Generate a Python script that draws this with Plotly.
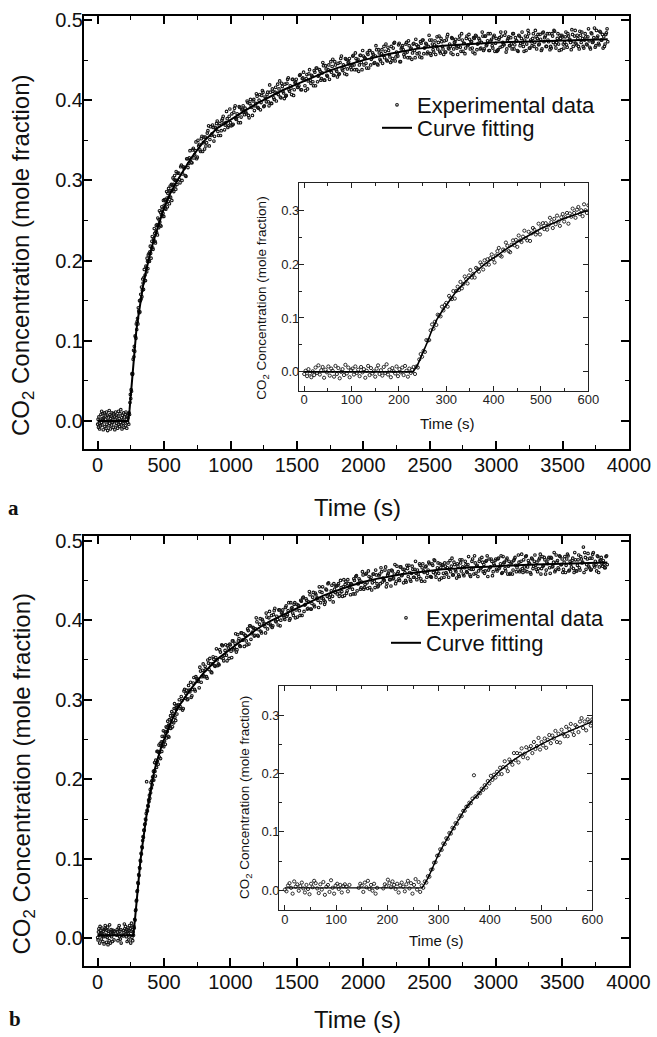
import plotly.graph_objects as go

# ---------------- DATA ----------------
# sampling grid of the recorded signal
t_early = list(range(0, 601, 3))      # 0 ... 600 s, every 3 s
t_late = list(range(610, 3841, 10))   # 610 ... 3840 s
t_mid = list(range(615, 3836, 10))    # 615 ... 3835 s (interleaved samples)

# Panel a: experimental CO2 concentration (mole fraction)
a_early = [
    -0.004, 0.002, -0.008, 0.005, -0.003, -0.010, 0.001, -0.006, 0.008, -0.002,
    0.012, -0.005, 0.003, 0.009, -0.011, 0.004, -0.001, 0.010, -0.007, 0.006,
    0.002, -0.009, 0.011, -0.004, 0.007, -0.012, 0.000, 0.005, -0.006, 0.013,
    -0.003, 0.008, -0.010, 0.003, 0.006, -0.005, 0.010, -0.002, 0.004, -0.008,
    0.009, -0.001, 0.005, -0.011, 0.002, 0.011, -0.006, 0.007, -0.003, 0.001,
    -0.009, 0.006, 0.012, -0.004, 0.003, -0.007, 0.009, -0.002, 0.014, -0.005,
    0.004, -0.010, 0.007, 0.001, -0.003, 0.010, -0.008, 0.005, -0.001, 0.008,
    -0.006, 0.011, 0.002, -0.009, 0.006, -0.002, 0.004, 0.009, -0.004, 0.010,
    0.008, 0.023, 0.033, 0.028, 0.039, 0.037, 0.059, 0.058, 0.059, 0.077,
    0.088, 0.080, 0.093, 0.087, 0.106, 0.105, 0.103, 0.121, 0.114, 0.124,
    0.128, 0.121, 0.141, 0.137, 0.135, 0.150, 0.136, 0.150, 0.158, 0.152,
    0.167, 0.155, 0.163, 0.177, 0.172, 0.164, 0.179, 0.189, 0.175, 0.182,
    0.175, 0.193, 0.191, 0.186, 0.203, 0.199, 0.190, 0.207, 0.199, 0.209,
    0.199, 0.211, 0.218, 0.209, 0.203, 0.216, 0.224, 0.230, 0.216, 0.214,
    0.227, 0.225, 0.240, 0.234, 0.224, 0.222, 0.236, 0.244, 0.235, 0.245,
    0.232, 0.253, 0.244, 0.241, 0.251, 0.262, 0.248, 0.244, 0.260, 0.243,
    0.257, 0.267, 0.264, 0.255, 0.259, 0.275, 0.255, 0.269, 0.276, 0.265,
    0.276, 0.264, 0.272, 0.286, 0.278, 0.267, 0.284, 0.274, 0.290, 0.279,
    0.271, 0.287, 0.293, 0.279, 0.287, 0.295, 0.275, 0.294, 0.288, 0.303,
    0.295, 0.286, 0.301, 0.306, 0.293, 0.300, 0.289, 0.311, 0.300, 0.295, 0.309,
]
a_late = [
    0.309, 0.297, 0.319, 0.308, 0.315, 0.306, 0.327, 0.316, 0.328, 0.326,
    0.322, 0.340, 0.332, 0.348, 0.329, 0.343, 0.338, 0.352, 0.336, 0.354,
    0.354, 0.347, 0.362, 0.343, 0.367, 0.358, 0.366, 0.355, 0.364, 0.374,
    0.356, 0.371, 0.362, 0.377, 0.371, 0.369, 0.386, 0.366, 0.380, 0.372,
    0.383, 0.370, 0.390, 0.377, 0.383, 0.372, 0.391, 0.379, 0.389, 0.385,
    0.390, 0.383, 0.397, 0.378, 0.401, 0.391, 0.399, 0.387, 0.396, 0.405,
    0.390, 0.407, 0.397, 0.412, 0.392, 0.404, 0.398, 0.410, 0.393, 0.410,
    0.396, 0.411, 0.401, 0.416, 0.409, 0.407, 0.424, 0.403, 0.417, 0.409,
    0.420, 0.406, 0.426, 0.413, 0.418, 0.407, 0.426, 0.413, 0.423, 0.419,
    0.416, 0.431, 0.413, 0.427, 0.435, 0.418, 0.427, 0.414, 0.433, 0.425,
    0.431, 0.423, 0.437, 0.418, 0.440, 0.430, 0.438, 0.425, 0.434, 0.443,
    0.425, 0.439, 0.430, 0.444, 0.437, 0.435, 0.451, 0.431, 0.444, 0.436,
    0.446, 0.433, 0.452, 0.439, 0.444, 0.433, 0.451, 0.439, 0.448, 0.444,
    0.438, 0.455, 0.444, 0.459, 0.438, 0.451, 0.444, 0.456, 0.438, 0.455,
    0.453, 0.446, 0.459, 0.440, 0.462, 0.451, 0.459, 0.446, 0.455, 0.463,
    0.444, 0.459, 0.449, 0.463, 0.456, 0.453, 0.470, 0.449, 0.462, 0.454,
    0.467, 0.452, 0.471, 0.449, 0.460, 0.455, 0.471, 0.448, 0.466, 0.463,
    0.454, 0.470, 0.460, 0.474, 0.453, 0.465, 0.459, 0.471, 0.453, 0.469,
    0.467, 0.459, 0.473, 0.453, 0.475, 0.465, 0.471, 0.458, 0.467, 0.475,
    0.456, 0.470, 0.460, 0.474, 0.467, 0.464, 0.480, 0.459, 0.473, 0.464,
    0.474, 0.460, 0.479, 0.465, 0.470, 0.459, 0.477, 0.464, 0.473, 0.468,
    0.457, 0.476, 0.466, 0.483, 0.461, 0.471, 0.465, 0.480, 0.469, 0.476,
    0.473, 0.465, 0.478, 0.458, 0.480, 0.470, 0.477, 0.464, 0.472, 0.480,
    0.464, 0.480, 0.469, 0.483, 0.462, 0.474, 0.468, 0.479, 0.461, 0.477,
    0.462, 0.476, 0.466, 0.480, 0.472, 0.469, 0.485, 0.464, 0.477, 0.468,
    0.478, 0.464, 0.483, 0.469, 0.474, 0.462, 0.481, 0.468, 0.477, 0.472,
    0.461, 0.480, 0.470, 0.487, 0.465, 0.475, 0.468, 0.483, 0.472, 0.479,
    0.477, 0.469, 0.482, 0.462, 0.484, 0.473, 0.480, 0.467, 0.475, 0.483,
    0.467, 0.483, 0.472, 0.486, 0.465, 0.477, 0.470, 0.481, 0.463, 0.479,
    0.465, 0.479, 0.469, 0.483, 0.475, 0.472, 0.488, 0.467, 0.480, 0.471,
    0.481, 0.467, 0.486, 0.472, 0.477, 0.465, 0.483, 0.470, 0.479, 0.474,
    0.464, 0.483, 0.473, 0.490, 0.468, 0.478, 0.471, 0.486, 0.475, 0.482,
    0.479, 0.470, 0.484, 0.473,
]
a_mid = [
    0.301, 0.317, 0.300, 0.317, 0.316, 0.305, 0.327, 0.321, 0.337, 0.322,
    0.338, 0.328, 0.337, 0.327, 0.350, 0.345, 0.336, 0.355, 0.347, 0.339,
    0.343, 0.359, 0.368, 0.351, 0.356, 0.369, 0.349, 0.366, 0.371, 0.361,
    0.368, 0.356, 0.375, 0.380, 0.363, 0.372, 0.377, 0.368, 0.389, 0.368,
    0.369, 0.385, 0.393, 0.376, 0.380, 0.392, 0.372, 0.388, 0.393, 0.382,
    0.385, 0.399, 0.381, 0.396, 0.393, 0.381, 0.401, 0.393, 0.408, 0.391,
    0.400, 0.388, 0.406, 0.410, 0.393, 0.402, 0.407, 0.398, 0.419, 0.396,
    0.414, 0.403, 0.410, 0.399, 0.420, 0.414, 0.404, 0.421, 0.411, 0.402,
    0.405, 0.421, 0.428, 0.411, 0.415, 0.426, 0.406, 0.422, 0.426, 0.416,
    0.418, 0.432, 0.413, 0.428, 0.425, 0.412, 0.432, 0.424, 0.438, 0.421,
    0.430, 0.418, 0.435, 0.440, 0.423, 0.431, 0.436, 0.427, 0.447, 0.425,
    0.443, 0.431, 0.438, 0.426, 0.448, 0.442, 0.431, 0.448, 0.438, 0.429,
    0.432, 0.447, 0.455, 0.437, 0.441, 0.452, 0.432, 0.447, 0.452, 0.441,
    0.443, 0.456, 0.438, 0.452, 0.449, 0.436, 0.456, 0.447, 0.462, 0.444,
    0.452, 0.440, 0.457, 0.462, 0.444, 0.453, 0.457, 0.447, 0.468, 0.445,
    0.463, 0.451, 0.458, 0.446, 0.467, 0.461, 0.450, 0.466, 0.457, 0.447,
    0.449, 0.465, 0.472, 0.454, 0.458, 0.469, 0.448, 0.464, 0.468, 0.457,
    0.459, 0.472, 0.453, 0.468, 0.464, 0.451, 0.470, 0.462, 0.476, 0.458,
    0.467, 0.454, 0.471, 0.475, 0.458, 0.466, 0.470, 0.460, 0.481, 0.458,
    0.475, 0.463, 0.469, 0.457, 0.479, 0.472, 0.461, 0.477, 0.467, 0.457,
    0.460, 0.475, 0.482, 0.464, 0.467, 0.478, 0.457, 0.472, 0.476, 0.465,
    0.467, 0.480, 0.461, 0.475, 0.471, 0.458, 0.477, 0.468, 0.482, 0.464,
    0.473, 0.460, 0.477, 0.481, 0.463, 0.471, 0.475, 0.465, 0.485, 0.462,
    0.480, 0.468, 0.474, 0.462, 0.483, 0.476, 0.465, 0.481, 0.471, 0.461,
    0.463, 0.478, 0.485, 0.467, 0.470, 0.481, 0.460, 0.475, 0.479, 0.468,
    0.470, 0.483, 0.464, 0.478, 0.474, 0.461, 0.480, 0.471, 0.485, 0.467,
    0.475, 0.462, 0.479, 0.483, 0.465, 0.473, 0.477, 0.467, 0.487, 0.464,
    0.482, 0.470, 0.476, 0.464, 0.485, 0.478, 0.467, 0.483, 0.473, 0.463,
    0.465, 0.480, 0.487, 0.469, 0.472, 0.483, 0.462, 0.477, 0.481, 0.470,
    0.472, 0.485, 0.466, 0.480, 0.476, 0.463, 0.482, 0.473, 0.487, 0.469,
    0.477, 0.464, 0.481, 0.485, 0.467, 0.475, 0.479, 0.469, 0.489, 0.466,
    0.484, 0.472, 0.478, 0.466, 0.487, 0.480, 0.469, 0.485, 0.475, 0.465,
    0.467, 0.482, 0.489,
]
# Panel a: fitted curve
a_fit_t = [0, 230, 240, 250, 260, 270, 280, 290, 300, 320, 340, 360, 380, 400,
           425, 450, 475, 500, 550, 600, 700, 800, 900, 1000, 1100, 1200, 1300,
           1400, 1500, 1600, 1700, 1800, 1900, 2000, 2200, 2400, 2600, 2800,
           3000, 3200, 3400, 3600, 3840]
a_fit_v = [0.0, 0.0, 0.014, 0.033, 0.055, 0.078, 0.097, 0.111, 0.124, 0.148,
           0.167, 0.184, 0.199, 0.212, 0.227, 0.241, 0.254, 0.266, 0.285, 0.300,
           0.327, 0.349, 0.365, 0.376, 0.386, 0.396, 0.405, 0.413, 0.420, 0.427,
           0.434, 0.440, 0.445, 0.450, 0.458, 0.464, 0.468, 0.470, 0.472, 0.473,
           0.474, 0.475, 0.476]

# Panel b: experimental CO2 concentration (mole fraction); None = no sample
b_early = [
    0.001, -0.002, 0.008, 0.012, 0.004, -0.006, 0.015, 0.006, 0.010, -0.001,
    0.007, 0.013, 0.003, -0.004, 0.009, 0.002, -0.007, 0.011, 0.005, 0.016,
    0.012, 0.003, -0.005, 0.010, 0.001, 0.014, -0.008, 0.006, 0.009, -0.003,
    0.017, 0.004, -0.006, 0.008, 0.011, 0.002, 0.009, -0.004, 0.007, 0.010,
    0.006, -0.002, 0.009, None, None, None, None, None, 0.004, 0.011,
    0.008, -0.003, 0.013, 0.005, 0.016, 0.002, 0.009, -0.001, 0.011, -0.006,
    0.004, None, None, None, 0.003, 0.010, 0.007, 0.018, 0.012, 0.005,
    0.015, 0.009, 0.002, 0.011, -0.004, 0.008, 0.013, 0.006, -0.002, 0.010,
    0.016, 0.003, 0.012, -0.006, 0.009, 0.019, 0.001, 0.014, -0.003, 0.008,
    0.004, 0.015, 0.013, 0.024, 0.023, 0.035, 0.036, 0.047, 0.048, 0.059,
    0.060, 0.070, 0.069, 0.080, 0.079, 0.089, 0.088, 0.098, 0.097, 0.107,
    0.106, 0.115, 0.114, 0.123, 0.128, 0.127, 0.136, 0.136, 0.143, 0.144,
    0.150, 0.149, 0.157, 0.197, 0.161, 0.160, 0.167, 0.166, 0.174, 0.172,
    0.180, 0.176, 0.187, 0.183, 0.196, 0.189, 0.198, 0.193, 0.203, 0.199,
    0.210, 0.199, 0.211, 0.221, 0.210, 0.204, 0.224, 0.220, 0.215, 0.235,
    0.223, 0.235, 0.219, 0.234, 0.243, 0.228, 0.234, 0.245, 0.226, 0.242,
    0.247, 0.235, 0.254, 0.242, 0.247, 0.261, 0.241, 0.254, 0.248, 0.260,
    0.244, 0.258, 0.266, 0.252, 0.265, 0.260, 0.273, 0.254, 0.268, 0.253,
    0.275, 0.268, 0.264, 0.280, 0.264, 0.276, 0.285, 0.272, 0.266, 0.283,
    0.280, 0.271, 0.289, 0.295, 0.278, 0.289, 0.274, 0.293, 0.288, 0.282, 0.293,
]
b_late = [
    0.294, 0.289, 0.304, 0.287, 0.311, 0.302, 0.312, 0.301, 0.312, 0.322,
    0.305, 0.321, 0.313, 0.329, 0.324, 0.323, 0.341, 0.322, 0.337, 0.330,
    0.342, 0.329, 0.350, 0.338, 0.345, 0.334, 0.354, 0.343, 0.353, 0.350,
    0.345, 0.363, 0.353, 0.368, 0.349, 0.362, 0.356, 0.368, 0.352, 0.369,
    0.353, 0.374, 0.365, 0.383, 0.363, 0.374, 0.368, 0.384, 0.375, 0.383,
    0.381, 0.374, 0.389, 0.370, 0.393, 0.383, 0.391, 0.380, 0.389, 0.398,
    0.380, 0.395, 0.386, 0.401, 0.394, 0.392, 0.409, 0.389, 0.403, 0.395,
    0.406, 0.393, 0.412, 0.399, 0.405, 0.394, 0.413, 0.400, 0.410, 0.406,
    0.401, 0.418, 0.407, 0.422, 0.402, 0.415, 0.409, 0.420, 0.403, 0.420,
    0.419, 0.412, 0.425, 0.406, 0.429, 0.419, 0.427, 0.414, 0.423, 0.432,
    0.414, 0.429, 0.419, 0.434, 0.427, 0.425, 0.442, 0.422, 0.435, 0.427,
    0.420, 0.439, 0.430, 0.447, 0.426, 0.437, 0.430, 0.446, 0.435, 0.443,
    0.444, 0.430, 0.450, 0.436, 0.442, 0.431, 0.449, 0.437, 0.446, 0.442,
    0.446, 0.439, 0.452, 0.433, 0.456, 0.446, 0.452, 0.439, 0.448, 0.457,
    0.441, 0.458, 0.447, 0.462, 0.441, 0.454, 0.447, 0.458, 0.441, 0.457,
    0.442, 0.456, 0.446, 0.461, 0.453, 0.450, 0.467, 0.446, 0.459, 0.451,
    0.443, 0.462, 0.453, 0.470, 0.449, 0.459, 0.452, 0.467, 0.456, 0.464,
    0.464, 0.450, 0.469, 0.455, 0.460, 0.449, 0.468, 0.454, 0.464, 0.459,
    0.463, 0.455, 0.469, 0.449, 0.471, 0.460, 0.467, 0.454, 0.463, 0.471,
    0.455, 0.471, 0.460, 0.475, 0.454, 0.466, 0.459, 0.471, 0.453, 0.469,
    0.454, 0.468, 0.458, 0.472, 0.464, 0.461, 0.478, 0.457, 0.470, 0.461,
    0.471, 0.457, 0.476, 0.462, 0.467, 0.456, 0.474, 0.461, 0.470, 0.465,
    0.455, 0.474, 0.464, 0.481, 0.459, 0.469, 0.462, 0.477, 0.466, 0.473,
    0.470, 0.462, 0.475, 0.455, 0.477, 0.467, 0.474, 0.461, 0.469, 0.477,
    0.462, 0.478, 0.467, 0.481, 0.460, 0.472, 0.465, 0.476, 0.458, 0.474,
    0.459, 0.473, 0.463, 0.477, 0.469, 0.466, 0.482, 0.461, 0.474, 0.465,
    0.476, 0.462, 0.481, 0.467, 0.472, 0.460, 0.478, 0.465, 0.474, 0.469,
    0.473, 0.465, 0.478, 0.458, 0.480, 0.469, 0.476, 0.463, 0.471, 0.479,
    0.459, 0.478, 0.468, 0.485, 0.463, 0.473, 0.466, 0.481, 0.470, 0.477,
    0.464, 0.480, 0.469, 0.483, 0.462, 0.474, 0.467, 0.478, 0.460, 0.476,
    0.462, 0.476, 0.466, 0.480, 0.472, 0.492, 0.485, 0.464, 0.477, 0.468,
    0.478, 0.464, 0.483, 0.469, 0.474, 0.462, 0.480, 0.467, 0.476, 0.471,
    0.475, 0.466, 0.480, 0.470,
]
b_mid = [
    0.300, 0.291, 0.299, 0.289, 0.313, 0.308, 0.300, 0.318, 0.310, 0.303,
    0.313, 0.328, 0.311, 0.327, 0.326, 0.315, 0.336, 0.329, 0.345, 0.329,
    0.338, 0.327, 0.346, 0.352, 0.335, 0.345, 0.351, 0.342, 0.364, 0.343,
    0.344, 0.360, 0.369, 0.352, 0.356, 0.369, 0.349, 0.365, 0.370, 0.361,
    0.374, 0.363, 0.371, 0.360, 0.382, 0.377, 0.367, 0.384, 0.375, 0.367,
    0.381, 0.369, 0.387, 0.393, 0.376, 0.385, 0.390, 0.381, 0.403, 0.381,
    0.388, 0.402, 0.384, 0.399, 0.396, 0.384, 0.404, 0.396, 0.411, 0.393,
    0.391, 0.407, 0.415, 0.398, 0.401, 0.413, 0.393, 0.409, 0.413, 0.403,
    0.416, 0.405, 0.412, 0.400, 0.422, 0.416, 0.406, 0.422, 0.413, 0.404,
    0.418, 0.406, 0.424, 0.428, 0.411, 0.420, 0.425, 0.415, 0.436, 0.414,
    0.421, 0.435, 0.417, 0.432, 0.428, 0.416, 0.436, 0.428, 0.442, 0.425,
    0.423, 0.438, 0.446, 0.429, 0.432, 0.444, 0.423, 0.439, 0.443, 0.433,
    0.446, 0.434, 0.441, 0.430, 0.451, 0.445, 0.434, 0.451, 0.441, 0.432,
    0.445, 0.433, 0.450, 0.455, 0.437, 0.446, 0.450, 0.441, 0.461, 0.439,
    0.445, 0.459, 0.440, 0.455, 0.451, 0.438, 0.458, 0.449, 0.463, 0.446,
    0.443, 0.458, 0.466, 0.448, 0.451, 0.463, 0.442, 0.457, 0.462, 0.451,
    0.463, 0.452, 0.458, 0.446, 0.468, 0.461, 0.450, 0.467, 0.457, 0.447,
    0.460, 0.448, 0.465, 0.469, 0.451, 0.459, 0.464, 0.454, 0.474, 0.451,
    0.458, 0.471, 0.452, 0.466, 0.462, 0.449, 0.468, 0.459, 0.473, 0.455,
    0.454, 0.469, 0.476, 0.458, 0.461, 0.472, 0.451, 0.466, 0.470, 0.459,
    0.472, 0.460, 0.466, 0.454, 0.475, 0.468, 0.457, 0.473, 0.463, 0.453,
    0.468, 0.455, 0.472, 0.476, 0.458, 0.466, 0.470, 0.460, 0.480, 0.457,
    0.464, 0.477, 0.458, 0.472, 0.468, 0.455, 0.474, 0.465, 0.479, 0.461,
    0.459, 0.474, 0.481, 0.463, 0.466, 0.477, 0.456, 0.471, 0.475, 0.464,
    0.477, 0.465, 0.471, 0.459, 0.480, 0.473, 0.462, 0.478, 0.468, 0.458,
    0.471, 0.458, 0.475, 0.479, 0.461, 0.469, 0.473, 0.463, 0.483, 0.460,
    0.467, 0.480, 0.461, 0.475, 0.471, 0.458, 0.477, 0.468, 0.482, 0.464,
    0.461, 0.476, 0.483, 0.465, 0.468, 0.479, 0.458, 0.473, 0.477, 0.466,
    0.479, 0.467, 0.473, 0.461, 0.482, 0.475, 0.464, 0.480, 0.470, 0.460,
    0.473, 0.460, 0.477, 0.481, 0.463, 0.471, 0.475, 0.465, 0.485, 0.462,
    0.469, 0.482, 0.463, 0.477, 0.473, 0.460, 0.479, 0.470, 0.484, 0.466,
    0.463, 0.478, 0.485, 0.467, 0.470, 0.481, 0.460, 0.475, 0.479, 0.468,
    0.470, 0.466, 0.481,
]
# Panel b: fitted curve
b_fit_t = [0, 268, 280, 290, 300, 310, 320, 330, 340, 350, 360, 370, 380, 390,
           400, 420, 440, 460, 480, 500, 525, 550, 575, 600, 700, 800, 900,
           1000, 1100, 1200, 1300, 1400, 1500, 1600, 1700, 1800, 1900, 2000,
           2100, 2200, 2300, 2400, 2500, 2600, 2700, 2800, 2900, 3000, 3100,
           3200, 3300, 3400, 3500, 3600, 3700, 3840]
b_fit_v = [0.004, 0.004, 0.022, 0.042, 0.062, 0.078, 0.094, 0.108, 0.122, 0.137,
           0.148, 0.157, 0.167, 0.178, 0.188, 0.205, 0.219, 0.231, 0.241, 0.250,
           0.261, 0.271, 0.280, 0.289, 0.313, 0.334, 0.351, 0.364, 0.377, 0.389,
           0.399, 0.407, 0.415, 0.423, 0.431, 0.437, 0.443, 0.448, 0.452, 0.455,
           0.458, 0.460, 0.462, 0.464, 0.465, 0.4665, 0.467, 0.468, 0.469, 0.4695,
           0.470, 0.4705, 0.471, 0.4715, 0.472, 0.4725]

main_xticks = [0, 500, 1000, 1500, 2000, 2500, 3000, 3500, 4000]
inset_xticks = [0, 100, 200, 300, 400, 500, 600]

assert len(a_early) == len(t_early) and len(b_early) == len(t_early)
assert len(a_late) == len(t_late) and len(b_late) == len(t_late)
assert len(a_mid) == len(t_mid) and len(b_mid) == len(t_mid)
assert len(a_fit_t) == len(a_fit_v) and len(b_fit_t) == len(b_fit_v)

# ---------------- FIGURE ----------------
W, H = 657, 1037
FONT = "Liberation Sans, Arial, Helvetica, sans-serif"
DOT = "#151515"


def fx(p):
    """page pixel x -> paper fraction"""
    return p / W


def fy(p):
    """page pixel y -> paper fraction"""
    return 1 - p / H


t_all = t_early + t_late + t_mid
a_all = a_early + a_late + a_mid
b_all = b_early + b_late + b_mid
t_in = list(t_early)
a_in = list(a_early)
b_in = list(b_early)
a_fit_in = [(t, v) for t, v in zip(a_fit_t, a_fit_v) if t <= 650]
b_fit_in = [(t, v) for t, v in zip(b_fit_t, b_fit_v) if t <= 650]

MAIN_DOT = dict(symbol="circle-open", size=2.6, color=DOT, line=dict(width=1.1, color=DOT))
INSET_DOT = dict(symbol="circle-open", size=3.2, color=DOT, line=dict(width=0.9, color=DOT))

fig = go.Figure()

# panel a main
fig.add_trace(go.Scatter(x=t_all, y=a_all, mode="markers", name="Experimental data",
                         marker=MAIN_DOT, xaxis="x", yaxis="y", legend="legend"))
fig.add_trace(go.Scatter(x=a_fit_t, y=a_fit_v, mode="lines", name="Curve fitting",
                         line=dict(color="black", width=2),
                         xaxis="x", yaxis="y", legend="legend2"))
# panel a inset
fig.add_trace(go.Scatter(x=t_in, y=a_in, mode="markers", showlegend=False,
                         marker=INSET_DOT, xaxis="x2", yaxis="y2"))
fig.add_trace(go.Scatter(x=[p[0] for p in a_fit_in], y=[p[1] for p in a_fit_in],
                         mode="lines", showlegend=False,
                         line=dict(color="black", width=1.6),
                         xaxis="x2", yaxis="y2"))
# panel b main
fig.add_trace(go.Scatter(x=t_all, y=b_all, mode="markers", name="Experimental data",
                         marker=MAIN_DOT, xaxis="x3", yaxis="y3", legend="legend3"))
fig.add_trace(go.Scatter(x=b_fit_t, y=b_fit_v, mode="lines", name="Curve fitting",
                         line=dict(color="black", width=2),
                         xaxis="x3", yaxis="y3", legend="legend4"))
# panel b inset
fig.add_trace(go.Scatter(x=t_in, y=b_in, mode="markers", showlegend=False,
                         marker=INSET_DOT, xaxis="x4", yaxis="y4"))
fig.add_trace(go.Scatter(x=[p[0] for p in b_fit_in], y=[p[1] for p in b_fit_in],
                         mode="lines", showlegend=False,
                         line=dict(color="black", width=1.4),
                         xaxis="x4", yaxis="y4"))


def main_axis(**kw):
    d = dict(showline=True, linecolor="black", linewidth=2, mirror="allticks",
             ticks="inside", ticklen=8, tickwidth=1.5, tickcolor="black",
             showgrid=False, zeroline=False, automargin=False,
             ticklabeloverflow="allow",
             tickfont=dict(family=FONT, size=20, color="#111"))
    d.update(kw)
    return d


def inset_axis(**kw):
    d = dict(showline=True, linecolor="#222", linewidth=1.2, mirror="allticks",
             ticks="inside", ticklen=5, tickwidth=1, tickcolor="#222",
             showgrid=False, zeroline=False, automargin=False,
             ticklabeloverflow="allow",
             tickfont=dict(family=FONT, size=13, color="#222"))
    d.update(kw)
    return d


def minor(dt, ln, col):
    return dict(ticks="inside", ticklen=ln, tickwidth=1.2 if ln > 3 else 1,
                tickcolor=col, dtick=dt, tick0=0, showgrid=False)


def legend_box(left, top):
    return dict(x=fx(left), y=fy(top), xanchor="left", yanchor="top",
                bgcolor="rgba(0,0,0,0)", borderwidth=0,
                font=dict(family=FONT, size=22, color="#111"))


fig.update_layout(
    width=W, height=H, autosize=False,
    margin=dict(l=0, r=0, t=0, b=0, autoexpand=False),
    paper_bgcolor="white", plot_bgcolor="white",
    font=dict(family=FONT, size=20, color="#111"),
    xaxis=main_axis(domain=[fx(84), fx(629)], range=[-103, 4000], anchor="y",
                    tickvals=main_xticks, ticklabelstandoff=-3,
                    minor=minor(250, 4, "black")),
    yaxis=main_axis(domain=[fy(449), fy(16)], range=[-0.035, 0.505], anchor="x",
                    dtick=0.1, tick0=0, tickformat=".1f", ticklabelstandoff=-5,
                    minor=minor(0.05, 4, "black")),
    xaxis2=inset_axis(domain=[fx(299), fx(588.3)], range=[-11, 600], anchor="y2",
                      tickvals=inset_xticks, ticklabelstandoff=-3,
                      minor=minor(50, 3, "#222")),
    yaxis2=inset_axis(domain=[fy(390.7), fy(183.3)], range=[-0.035, 0.35], anchor="x2",
                      dtick=0.1, tick0=0, tickformat=".1f", ticklabelstandoff=-4,
                      minor=minor(0.05, 3, "#222")),
    xaxis3=main_axis(domain=[fx(84), fx(628.5)], range=[-103, 4000], anchor="y3",
                     tickvals=main_xticks, ticklabelstandoff=-3,
                     minor=minor(250, 4, "black")),
    yaxis3=main_axis(domain=[fy(966), fy(536)], range=[-0.0348, 0.5059], anchor="x3",
                     dtick=0.1, tick0=0, tickformat=".1f", ticklabelstandoff=-5,
                     minor=minor(0.05, 4, "black")),
    xaxis4=inset_axis(domain=[fx(279.3), fx(592.3)], range=[-11, 600], anchor="y4",
                      tickvals=inset_xticks, ticklabelstandoff=-3,
                      minor=minor(50, 3, "#222")),
    yaxis4=inset_axis(domain=[fy(910), fy(686)], range=[-0.034, 0.35], anchor="x4",
                      dtick=0.1, tick0=0, tickformat=".1f", ticklabelstandoff=-4,
                      minor=minor(0.05, 3, "#222")),
    legend=legend_box(377, 84),
    legend2=legend_box(377, 107),
    legend3=legend_box(386, 597),
    legend4=legend_box(386, 622),
)

YT = "CO<sub>2</sub> Concentration (mole fraction)"
ann = [
    dict(text=YT, x=fx(23), y=fy(256), textangle=-90, font=dict(size=24)),
    dict(text="Time (s)", x=fx(357), y=fy(507), font=dict(size=24)),
    dict(text=YT, x=fx(261.7), y=fy(298), textangle=-90, font=dict(size=13.5)),
    dict(text="Time (s)", x=fx(446.7), y=fy(423.3), font=dict(size=15)),
    dict(text="<b>a</b>", x=fx(13), y=fy(508),
         font=dict(size=21, family="Liberation Serif, Times New Roman, serif")),
    dict(text=YT, x=fx(23), y=fy(774.5), textangle=-90, font=dict(size=24)),
    dict(text="Time (s)", x=fx(357), y=fy(1019), font=dict(size=24)),
    dict(text=YT, x=fx(245), y=fy(798), textangle=-90, font=dict(size=13.5)),
    dict(text="Time (s)", x=fx(435.8), y=fy(940), font=dict(size=15)),
    dict(text="<b>b</b>", x=fx(15), y=fy(1019),
         font=dict(size=21, family="Liberation Serif, Times New Roman, serif")),
]
for a in ann:
    a.update(xref="paper", yref="paper", showarrow=False,
             xanchor="center", yanchor="middle")
    a["font"].setdefault("family", FONT)
    a["font"].setdefault("color", "#111")
fig.update_layout(annotations=ann)

# remove the browser's default 8px page margin so the figure fills the window
fig.write_html("out.html", config={"displayModeBar": False},
               post_script="document.body.style.margin = '0';")
